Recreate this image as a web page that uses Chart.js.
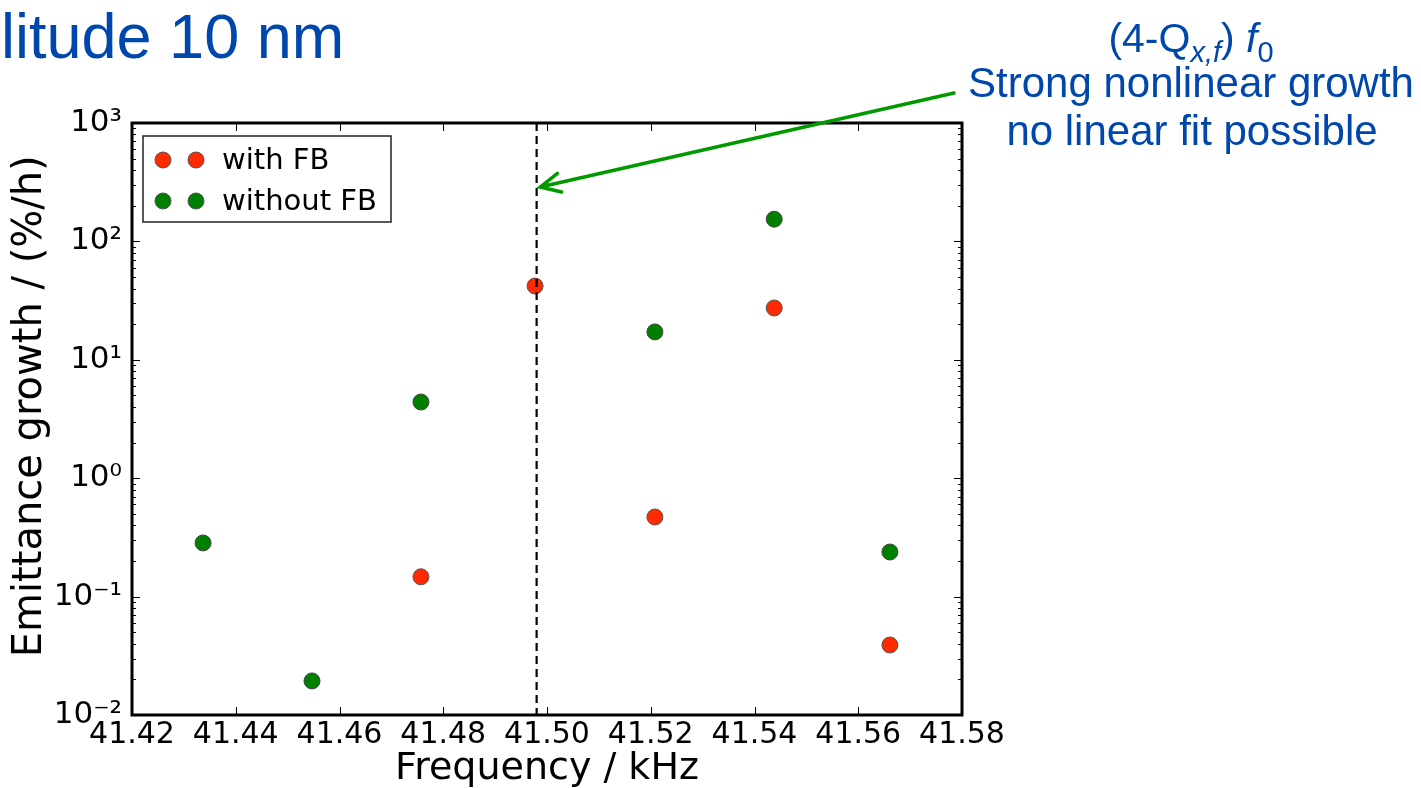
<!DOCTYPE html>
<html>
<head>
<meta charset="utf-8">
<script src="https://cdn.jsdelivr.net/npm/chart.js@4/dist/chart.umd.min.js"></script>
<style>
  html, body { margin: 0; padding: 0; background: #fff; }
  #wrap { width: 1421px; height: 788px; position: relative; }
</style>
</head>
<body>
<div id="wrap"><canvas id="chart"></canvas></div>
<script>
// data
const withFbX = [41.4757, 41.4977, 41.5208, 41.5438, 41.5661];
const withFbY = [0.147, 42, 0.47, 27.4, 0.039];
const withoutFbX = [41.4337, 41.4547, 41.4757, 41.5208, 41.5438, 41.5661];
const withoutFbY = [0.284, 0.0194, 4.4, 17.2, 154, 0.238];
const resonanceX = 41.498;
const yExponents = [-2, -1, 0, 1, 2, 3];
const supers = { "-": "\u207B", "0": "\u2070", "1": "\u00B9", "2": "\u00B2", "3": "\u00B3" };

const RED = "#ff2a00";
const GREEN = "#008000";
const BLUE = "#0047ab";
const ARROW = "#009a00";

const toPoints = (xs, ys) => xs.map((x, i) => ({ x, y: ys[i] }));

// frame, inward ticks, dashed line, legend, annotation text
const decorations = {
  id: "decorations",
  beforeDatasetsDraw(chart) {
    const { ctx, chartArea: a, scales } = chart;
    const xs = scales.x, ys = scales.y;
    ctx.save();
    ctx.strokeStyle = "#000";
    ctx.lineWidth = 1;
    // x ticks (bottom + top)
    for (let v = 41.42; v <= 41.5801; v += 0.02) {
      const px = Math.round(xs.getPixelForValue(v)) + 0.5;
      ctx.beginPath();
      ctx.moveTo(px, a.bottom); ctx.lineTo(px, a.bottom - 8);
      ctx.moveTo(px, a.top); ctx.lineTo(px, a.top + 8);
      ctx.stroke();
    }
    // y major + minor ticks (left + right)
    yExponents.forEach((e) => {
      const py = Math.round(ys.getPixelForValue(10 ** e)) + 0.5;
      ctx.beginPath();
      ctx.moveTo(a.left, py); ctx.lineTo(a.left + 8, py);
      ctx.moveTo(a.right, py); ctx.lineTo(a.right - 8, py);
      ctx.stroke();
      if (e < 3) {
        for (let m = 2; m <= 9; m++) {
          const pm = Math.round(ys.getPixelForValue(m * 10 ** e)) + 0.5;
          ctx.beginPath();
          ctx.moveTo(a.left, pm); ctx.lineTo(a.left + 4, pm);
          ctx.moveTo(a.right, pm); ctx.lineTo(a.right - 4, pm);
          ctx.stroke();
        }
      }
    });
    ctx.restore();
  },
  afterDatasetsDraw(chart) {
    const { ctx, chartArea: a, scales } = chart;
    const xs = scales.x, ys = scales.y;
    ctx.save();

    // dashed resonance line
    const lx = xs.getPixelForValue(resonanceX);
    ctx.strokeStyle = "#000";
    ctx.lineWidth = 2.2;
    ctx.setLineDash([8, 5]);
    ctx.beginPath();
    ctx.moveTo(lx, a.top); ctx.lineTo(lx, a.bottom);
    ctx.stroke();
    ctx.setLineDash([]);

    // frame
    ctx.lineWidth = 3;
    ctx.strokeRect(a.left, a.top, a.right - a.left, a.bottom - a.top);

    // legend
    const lg = { x: a.left + 11, y: a.top + 13, w: 248, h: 86 };
    ctx.lineWidth = 1.5;
    ctx.strokeStyle = "#222";
    ctx.fillStyle = "#fff";
    ctx.fillRect(lg.x, lg.y, lg.w, lg.h);
    ctx.strokeRect(lg.x, lg.y, lg.w, lg.h);
    ctx.font = "29px 'DejaVu Sans'";
    ctx.textBaseline = "middle";
    chart.data.datasets.forEach((ds, i) => {
      const cy = lg.y + 24 + i * 41;
      [lg.x + 20, lg.x + 53].forEach((cx) => {
        ctx.beginPath();
        ctx.arc(cx, cy, 8, 0, Math.PI * 2);
        ctx.fillStyle = ds.backgroundColor;
        ctx.fill();
        ctx.lineWidth = 1;
        ctx.strokeStyle = "#555";
        ctx.stroke();
      });
      ctx.fillStyle = "#000";
      ctx.fillText(ds.label, lg.x + 79, cy + 1);
    });

    // arrow to the resonance line
    const tip = { x: xs.getPixelForValue(41.4987), y: ys.getPixelForValue(288) };
    const tail = { x: a.right - 8, y: a.top - 30 };
    const ang = Math.atan2(tip.y - tail.y, tip.x - tail.x);
    ctx.strokeStyle = ARROW;
    ctx.lineWidth = 3.5;
    ctx.lineCap = "round";
    ctx.beginPath();
    ctx.moveTo(tail.x, tail.y); ctx.lineTo(tip.x, tip.y);
    ctx.moveTo(tip.x - 22 * Math.cos(ang - 0.45), tip.y - 22 * Math.sin(ang - 0.45));
    ctx.lineTo(tip.x, tip.y);
    ctx.lineTo(tip.x - 22 * Math.cos(ang + 0.45), tip.y - 22 * Math.sin(ang + 0.45));
    ctx.stroke();

    // blue slide text
    ctx.fillStyle = BLUE;
    ctx.textBaseline = "alphabetic";
    ctx.textAlign = "left";
    ctx.font = "63px 'Liberation Sans'";
    ctx.fillText("litude 10 nm", 1, 58);

    ctx.textAlign = "center";
    ctx.font = "42px 'Liberation Sans'";
    ctx.fillText("Strong nonlinear growth", 1191, 97);
    ctx.fillText("no linear fit possible", 1192, 145);

    // (4-Q_{x,f}) f_0
    const parts = [
      { t: "(4-Q", f: "41px 'Liberation Sans'", dy: 0 },
      { t: "x,f", f: "italic 29px 'Liberation Sans'", dy: 10 },
      { t: ") ", f: "41px 'Liberation Sans'", dy: 0 },
      { t: "f", f: "italic 41px 'Liberation Sans'", dy: 0 },
      { t: "0", f: "29px 'Liberation Sans'", dy: 10 },
    ];
    let total = 0;
    parts.forEach((p) => { ctx.font = p.f; p.w = ctx.measureText(p.t).width; total += p.w; });
    let px = 1191 - total / 2;
    ctx.textAlign = "left";
    parts.forEach((p) => { ctx.font = p.f; ctx.fillText(p.t, px, 52 + p.dy); px += p.w; });

    ctx.restore();
  },
};

new Chart(document.getElementById("chart"), {
  type: "scatter",
  data: {
    datasets: [
      { label: "with FB", data: toPoints(withFbX, withFbY), backgroundColor: RED, borderColor: "#555", borderWidth: 1, pointRadius: 8, pointHoverRadius: 8 },
      { label: "without FB", data: toPoints(withoutFbX, withoutFbY), backgroundColor: GREEN, borderColor: "#444", borderWidth: 1, pointRadius: 8, pointHoverRadius: 8 },
    ],
  },
  options: {
    responsive: true,
    maintainAspectRatio: false,
    animation: false,
    layout: { padding: { top: 123, right: 459, bottom: 0, left: 0 } },
    plugins: { legend: { display: false }, tooltip: { enabled: false } },
    scales: {
      x: {
        type: "linear",
        min: 41.42,
        max: 41.58,
        afterBuildTicks: (s) => { s.ticks = [0, 1, 2, 3, 4, 5, 6, 7, 8].map((i) => ({ value: 41.42 + i * 0.02 })); },
        afterFit: (s) => { s.height = 73; },
        ticks: { color: "#000", font: { family: "DejaVu Sans", size: 30 }, padding: 2, maxRotation: 0, autoSkip: false, callback: (v) => v.toFixed(2) },
        grid: { display: false, drawTicks: false },
        border: { display: false },
        title: { display: true, text: "Frequency / kHz", color: "#000", font: { family: "DejaVu Sans", size: 38, lineHeight: 1 }, padding: { top: 0, bottom: 0 } },
      },
      y: {
        type: "logarithmic",
        min: 0.01,
        max: 1000,
        afterBuildTicks: (s) => { s.ticks = yExponents.map((e) => ({ value: 10 ** e })); },
        afterFit: (s) => { s.width = 132; },
        ticks: {
          color: "#000", font: { family: "DejaVu Sans", size: 31 }, padding: 10, autoSkip: false,
          callback: (v) => "10" + String(Math.round(Math.log10(v))).split("").map((c) => supers[c]).join(""),
        },
        grid: { display: false, drawTicks: false },
        border: { display: false },
        title: { display: true, text: "  Emittance growth / (%/h)", color: "#000", font: { family: "DejaVu Sans", size: 40, lineHeight: 1 }, padding: { top: 11, bottom: 0 } },
      },
    },
  },
  plugins: [decorations],
});
</script>
</body>
</html>
